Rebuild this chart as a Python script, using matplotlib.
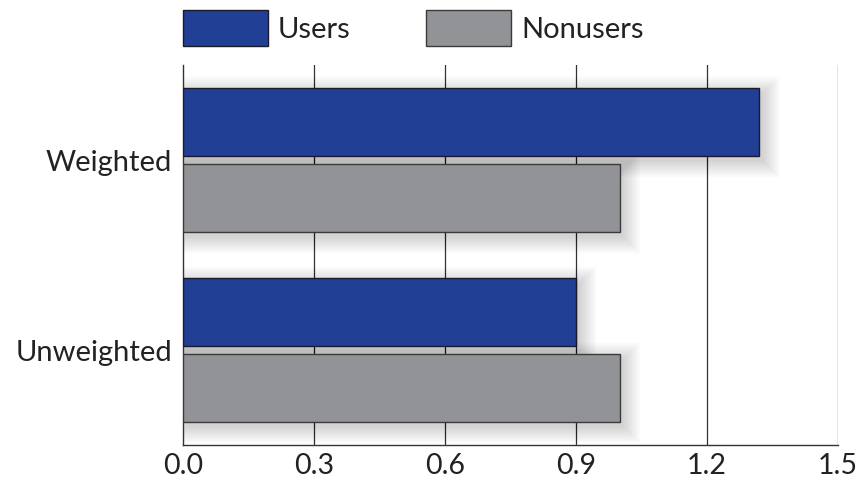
import matplotlib
matplotlib.use("Agg")
import matplotlib.pyplot as plt
from matplotlib.patches import Rectangle
import numpy as np

plt.rcParams['font.family'] = ['Lato', 'DejaVu Sans']

categories = ["Unweighted", "Weighted"]
series_names = ["Users", "Nonusers"]
users = [0.90, 1.32]
nonusers = [1.00, 1.00]
xticks = [0.0, 0.3, 0.6, 0.9, 1.2, 1.5]

blue = "#223F96"
gray = "#929396"
text_color = "#222222"

fig = plt.figure(figsize=(8.56, 4.8), dpi=100)
ax = fig.add_axes([183/856, 35/480, 655/856, 380/480])
ax.set_xlim(0, 1.5)
ax.set_ylim(-0.5, 1.5)

ypos = np.arange(len(categories))
h = 0.358
off = 0.2

# pixel -> data conversion for the soft drop shadows
px_x = 1.5 / 655
px_y = 2.0 / 380


def shadow(width, y_center, height):
    sx, sy = 4, 5
    n = 22
    for k in range(n):
        g = k * 0.8
        r = Rectangle(((sx - g) * px_x, y_center - height / 2 - (sy + g) * px_y),
                      width + 2 * g * px_x, height + 2 * g * px_y,
                      facecolor="black", edgecolor="none", alpha=0.0075, zorder=1.5)
        ax.add_patch(r)


for y, v in zip(ypos, users):
    shadow(v, y + off, h)
for y, v in zip(ypos, nonusers):
    shadow(v, y - off, h)

b1 = ax.barh(ypos + off, users, height=h, color=blue, edgecolor="#1a1a2a",
             linewidth=1.0, zorder=3, label=series_names[0])
b2 = ax.barh(ypos - off, nonusers, height=h, color=gray, edgecolor="#3a3a3a",
             linewidth=1.0, zorder=3, label=series_names[1])

ax.set_xticks(xticks)
ax.set_xticklabels([f"{t:.1f}" for t in xticks], fontsize=20.5, color=text_color)
ax.set_yticks(ypos)
ax.set_yticklabels(categories, fontsize=21, color=text_color)
ax.tick_params(axis="both", length=0, pad=6)
ax.tick_params(axis="y", pad=8)

for t in xticks[1:]:
    ax.axvline(t, color="#333333", linewidth=0.9, zorder=1)

for s in ["top", "right"]:
    ax.spines[s].set_visible(False)
for s in ["left", "bottom"]:
    ax.spines[s].set_color("#333333")
    ax.spines[s].set_linewidth(1.0)

leg = ax.legend(handles=[b1, b2], loc="lower left", bbox_to_anchor=(0, 1.05),
                ncol=2, frameon=False, fontsize=21, handlelength=2.9,
                handleheight=1.5, handletextpad=0.35, columnspacing=2.6,
                borderpad=0, borderaxespad=0)
for t in leg.get_texts():
    t.set_color(text_color)

fig.savefig("out.png", dpi=100)
